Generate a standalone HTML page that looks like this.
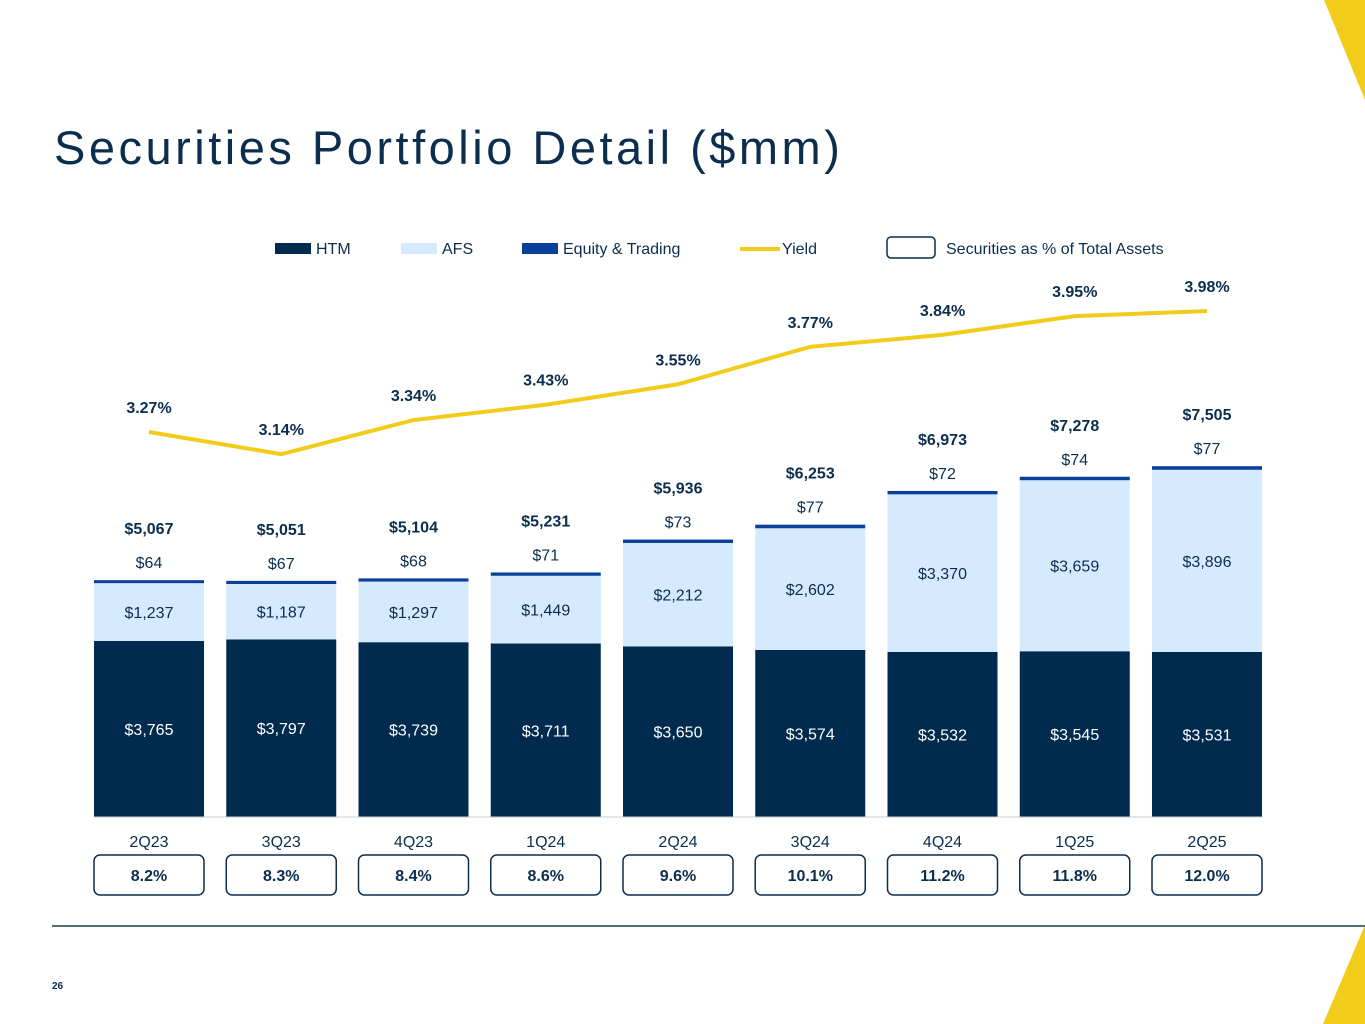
<!DOCTYPE html>
<html><head><meta charset="utf-8"><style>
body{margin:0;width:1365px;height:1024px;overflow:hidden;background:#fff;font-family:"Liberation Sans",sans-serif;position:relative}
.t{position:absolute;left:54px;top:120px;font-size:47px;color:#0b2d4e;margin:0;font-weight:normal;letter-spacing:3.5px}
</style></head><body>
<svg width="1365" height="1024" style="position:absolute;left:0;top:0">
<polygon points="1324,0 1365,0 1365,100" fill="#f2cc1b"/>
<polygon points="1365,925 1365,1024 1323,1024" fill="#f2cc1b"/>
<line x1="52" y1="926" x2="1365" y2="926" stroke="#1d3c4e" stroke-width="1.5"/>
<text x="52" y="989" font-size="10" font-weight="bold" fill="#0b2d4e">26</text>
<g font-size="16" fill="#0b2d4e">
<rect x="275" y="243" width="36" height="11" fill="#002b4f"/><text x="316" y="254">HTM</text>
<rect x="401" y="243" width="36" height="11" fill="#d6eaff"/><text x="442" y="254">AFS</text>
<rect x="522" y="243" width="36" height="11" fill="#0a3f9a"/><text x="563" y="254">Equity &amp; Trading</text>
<line x1="740" y1="249" x2="780" y2="249" stroke="#f2cc1b" stroke-width="4"/><text x="782" y="254">Yield</text>
<rect x="887" y="237" width="48" height="21" rx="4" fill="none" stroke="#0b2d4e" stroke-width="1.5"/><text x="946" y="254">Securities as % of Total Assets</text>
</g>
<g id="chart"></g>
</svg>
<h1 class="t">Securities Portfolio Detail ($mm)</h1>
<script>
const quarters=["2Q23","3Q23","4Q23","1Q24","2Q24","3Q24","4Q24","1Q25","2Q25"];
const htm=[3765,3797,3739,3711,3650,3574,3532,3545,3531];
const afs=[1237,1187,1297,1449,2212,2602,3370,3659,3896];
const equity=[64,67,68,71,73,77,72,74,77];
const totals=[5067,5051,5104,5231,5936,6253,6973,7278,7505];
const yields=[3.27,3.14,3.34,3.43,3.55,3.77,3.84,3.95,3.98];
const pctAssets=["8.2%","8.3%","8.4%","8.6%","9.6%","10.1%","11.2%","11.8%","12.0%"];
const NS="http://www.w3.org/2000/svg";
const g=document.getElementById('chart');
const base=817,k=0.04675,bw=110;
const xc=i=>149+i*132.25;
const yv=v=>base-v*k;
const yy=v=>432-(v-3.27)*170.4;
const fmt=v=>"$"+v.toLocaleString("en-US");
function mk(tag,a,txt){const e=document.createElementNS(NS,tag);for(const key in a)e.setAttribute(key,a[key]);if(txt!=null)e.textContent=txt;g.appendChild(e);return e;}
quarters.forEach((q,i)=>{
  const x=xc(i)-bw/2;
  let e=mk('rect',{x:x,y:yv(htm[i]),width:bw,height:htm[i]*k,fill:'#002b4f'});
  
  
  const afsTop=yv(htm[i]+afs[i]);
  e=mk('rect',{x:x,y:afsTop,width:bw,height:afs[i]*k,fill:'#d6eaff'});
  
  
  const eqTop=yv(htm[i]+afs[i]+equity[i]);
  e=mk('rect',{x:x,y:eqTop,width:bw,height:equity[i]*k,fill:'#0a3f9a'});
  
  
  e=mk('text',{x:xc(i),y:(yv(htm[i])+base)/2+6,'text-anchor':'middle','font-size':16,fill:'#fff'},fmt(htm[i]));
  
  
  e=mk('text',{x:xc(i),y:(afsTop+yv(htm[i]))/2+6,'text-anchor':'middle','font-size':16,fill:'#0b2d4e'},fmt(afs[i]));
  
  
  e=mk('text',{x:xc(i),y:eqTop-12,'text-anchor':'middle','font-size':16,fill:'#0b2d4e'},fmt(equity[i]));
  
  
  e=mk('text',{x:xc(i),y:eqTop-46,'text-anchor':'middle','font-size':16,'font-weight':'bold',fill:'#0b2d4e'},fmt(totals[i]));
  
  
  e=mk('text',{x:xc(i),y:847,'text-anchor':'middle','font-size':16,fill:'#0b2d4e'},q);
  
  
  e=mk('rect',{x:x,y:855,width:bw,height:40,rx:6,fill:'none',stroke:'#0b2d4e','stroke-width':1.5});
  
  
  e=mk('text',{x:xc(i),y:881,'text-anchor':'middle','font-size':16,'font-weight':'bold',fill:'#0b2d4e'},pctAssets[i]);
  
  
  e=mk('text',{x:xc(i),y:yy(yields[i])-19,'text-anchor':'middle','font-size':16,'font-weight':'bold',fill:'#0b2d4e'},yields[i].toFixed(2)+"%");
  
  
});
const l=mk('line',{x1:94,y1:817,x2:1263,y2:817,stroke:'#c8ccd2','stroke-width':1});


const p=mk('polyline',{points:yields.map((v,i)=>xc(i)+","+yy(v)).join(" "),fill:'none',stroke:'#f2cc1b','stroke-width':4});


</script>
</body></html>
